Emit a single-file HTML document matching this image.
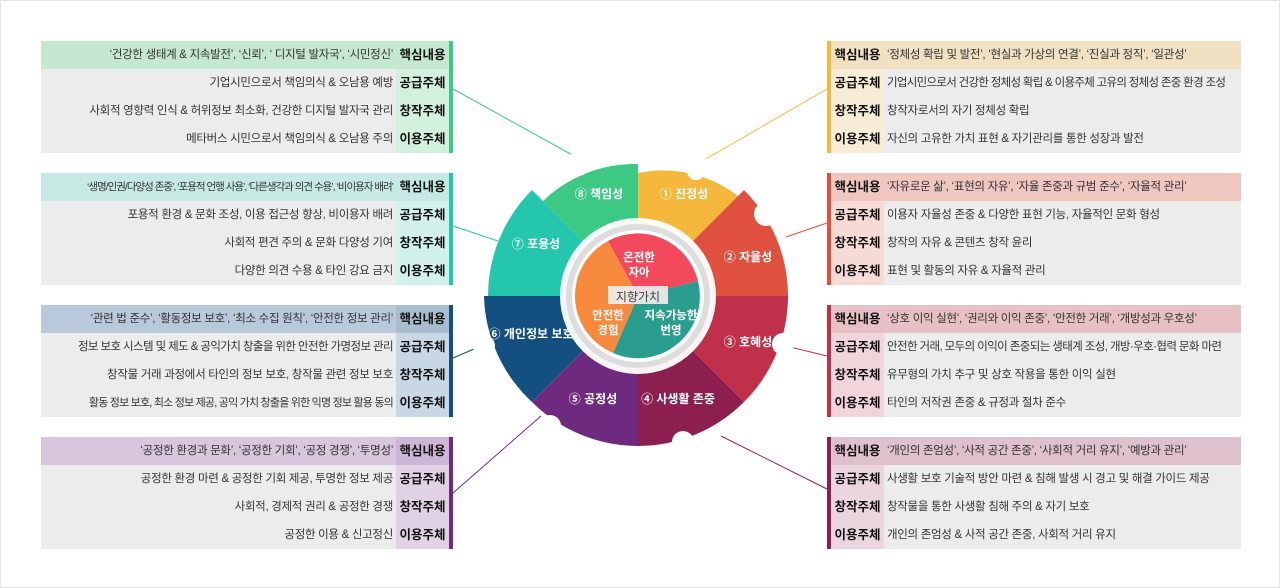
<!DOCTYPE html>
<html><head><meta charset="utf-8"><style>
body{margin:0;background:#fff;}
#c{position:relative;width:1280px;height:588px;overflow:hidden;font-family:"Liberation Sans","Noto Sans CJK KR",sans-serif;border:1px solid #e4e4e4;box-sizing:border-box;}
.p{position:absolute;width:412px;height:112px;}
.r{position:absolute;height:28px;width:100%;font-size:11.5px;color:#333;line-height:28px;white-space:nowrap;letter-spacing:-0.3px;}
.L .r .t{position:absolute;right:60px;top:0;}
.L .r .k{position:absolute;right:4px;width:53px;top:0;text-align:center;font-weight:bold;font-size:12.5px;color:#111;height:28px;letter-spacing:0;}
.R .r .t{position:absolute;left:60px;top:0;}
.R .r .k{position:absolute;left:4px;width:53px;top:0;text-align:center;font-weight:bold;font-size:12.5px;color:#111;height:28px;letter-spacing:0;}
.bar{position:absolute;top:0;width:4px;height:112px;}
.L .bar{right:0}.R .bar{left:0}
svg{position:absolute;left:0;top:0;}
</style></head><body><div id="c">
<svg width="1280" height="588">
<g stroke-width="1">
<line x1="452" y1="88" x2="575" y2="156" stroke="#3cc983"/>
<line x1="452" y1="225" x2="497" y2="240" stroke="#24c7ae"/>
<line x1="452" y1="357" x2="487" y2="342" stroke="#134f7f"/>
<line x1="452" y1="492" x2="540" y2="415" stroke="#6e2a7e"/>
<line x1="826" y1="88" x2="705" y2="158" stroke="#f5b83d"/>
<line x1="826" y1="222" x2="785" y2="236" stroke="#e0503e"/>
<line x1="826" y1="355" x2="785" y2="345" stroke="#c0304a"/>
<line x1="826" y1="488" x2="720" y2="435" stroke="#8d1f50"/>
</g>
<g transform="translate(637,295)">
<path d="M0,0 L0,-123 A123,123 0 0 1 100,-100 Z" fill="#f5b83d"/>
<path d="M0,0 L106,-106 A150,150 0 0 1 150,0 Z" fill="#e0503e"/>
<path d="M0,0 L150,0 A150,150 0 0 1 106,106 Z" fill="#c0304a"/>
<path d="M0,0 L106,106 A150,150 0 0 1 0,150 Z" fill="#8d1f50"/>
<path d="M0,0 L0,150 A150,150 0 0 1 -106,106 Z" fill="#6e2a7e"/>
<path d="M0,0 L-106,106 A150,150 0 0 1 -154,0 Z" fill="#134f7f"/>
<path d="M0,0 L-150,0 A150,150 0 0 1 -106,-106 Z" fill="#24c7ae"/>
<path d="M0,0 L-95,-95 A132,132 0 0 1 0,-132 Z" fill="#3cc983"/>
<g fill="#fff">
<circle cx="128" cy="-82" r="12"/><circle cx="145" cy="48" r="11"/><circle cx="45" cy="146" r="11"/><circle cx="-88" cy="130" r="11"/><circle cx="-154" cy="50" r="11"/><circle cx="-146" cy="-70" r="12"/><circle cx="-60" cy="-132" r="12"/><circle cx="58" cy="-125" r="9"/>
</g>
<circle r="78" fill="#fff" opacity="0.95"/>
<circle r="72" fill="#ddd"/>
<circle r="66" fill="#fff"/>
<path d="M0,0 L-30,-55 A62,62 0 0 1 60,-15 Z" fill="#f24a5c"/>
<path d="M0,0 L60,-15 A62,62 0 0 1 -25,57 Z" fill="#2a9d8f"/>
<path d="M0,0 L-25,57 A62,62 0 0 1 -30,-55 Z" fill="#f88a3e"/>
<rect x="-30" y="-10" width="60" height="18" fill="#eee" opacity="0.9"/>
</g>
<g font-family="Liberation Sans,Noto Sans CJK KR,sans-serif" fill="#fff" font-size="12" font-weight="bold" text-anchor="middle">
<text x="598" y="197">⑧ 책임성</text><text x="683" y="197">① 진정성</text>
<text x="535" y="247">⑦ 포용성</text><text x="747" y="260">② 자율성</text>
<text x="530" y="337">⑥ 개인정보 보호</text><text x="747" y="345">③ 호혜성</text>
<text x="592" y="402">⑤ 공정성</text><text x="677" y="402">④ 사생활 존중</text>
<g font-size="11.5"><text x="638" y="260">온전한</text><text x="638" y="275">자아</text>
<text x="607" y="318">안전한</text><text x="607" y="333">경험</text>
<text x="670" y="318">지속가능한</text><text x="670" y="333">번영</text></g>
<text x="637" y="300" fill="#444" font-weight="normal" font-size="12">지향가치</text>
</g>
</svg>

<div class="p L" style="left:40px;top:40px"><div class="r" style="top:0;background:#c6e8d3"><span class="t">‘건강한 생태계 &amp; 지속발전’, ‘신뢰’, ‘ 디지털 발자국’, ‘시민정신’</span><span class="k">핵심내용</span></div>
<div class="r" style="top:28px;background:#ececec"><span class="t">기업시민으로서 책임의식 &amp; 오남용 예방</span><span class="k" style="background:#d3f0de">공급주체</span></div>
<div class="r" style="top:56px;background:#ececec"><span class="t">사회적 영향력 인식 &amp; 허위정보 최소화, 건강한 디지털 발자국 관리</span><span class="k" style="background:#d3f0de">창작주체</span></div>
<div class="r" style="top:84px;background:#ececec"><span class="t">메타버스 시민으로서 책임의식 &amp; 오남용 주의</span><span class="k" style="background:#d3f0de">이용주체</span></div><div class="bar" style="background:#3cc983"></div></div>

<div class="p L" style="left:40px;top:172px"><div class="r" style="top:0;background:#c6eae3"><span class="t" style="letter-spacing:-1px;font-size:10.5px">‘생명/인권/다양성 존중’, ‘포용적 언행 사용’, ‘다른생각과 의견 수용’, ‘비이용자 배려’</span><span class="k">핵심내용</span></div>
<div class="r" style="top:28px;background:#ececec"><span class="t">포용적 환경 &amp; 문화  조성, 이용 접근성 향상, 비이용자 배려</span><span class="k" style="background:#d2f1eb">공급주체</span></div>
<div class="r" style="top:56px;background:#ececec"><span class="t">사회적 편견 주의 &amp; 문화 다양성 기여</span><span class="k" style="background:#d2f1eb">창작주체</span></div>
<div class="r" style="top:84px;background:#ececec"><span class="t">다양한 의견 수용 &amp; 타인 강요 금지</span><span class="k" style="background:#d2f1eb">이용주체</span></div><div class="bar" style="background:#24c7ae"></div></div>

<div class="p L" style="left:40px;top:304px"><div class="r" style="top:0;background:#b9c9d9"><span class="t">‘관련 법 준수’, ‘활동정보 보호’, ‘최소 수집 원칙’, ‘안전한 정보 관리’</span><span class="k" style="background:#a9bcd0">핵심내용</span></div>
<div class="r" style="top:28px;background:#ececec"><span class="t" style="letter-spacing:-0.6px">정보 보호 시스템 및 제도 &amp; 공익가치 창출을 위한 안전한 가명정보 관리</span><span class="k" style="background:#c9d6e3">공급주체</span></div>
<div class="r" style="top:56px;background:#ececec"><span class="t">창작물 거래 과정에서 타인의 정보 보호, 창작물 관련 정보 보호</span><span class="k" style="background:#c9d6e3">창작주체</span></div>
<div class="r" style="top:84px;background:#ececec"><span class="t" style="letter-spacing:-0.8px;font-size:11px">활동 정보 보호, 최소 정보 제공, 공익 가치 창출을 위한 익명 정보 활용 동의</span><span class="k" style="background:#c9d6e3">이용주체</span></div><div class="bar" style="background:#134f7f"></div></div>

<div class="p L" style="left:40px;top:436px"><div class="r" style="top:0;background:#d8c6dd"><span class="t">‘공정한 환경과 문화’, ‘공정한 기회’, ‘공정 경쟁’, ‘투명성’</span><span class="k" style="background:#cdb6d5">핵심내용</span></div>
<div class="r" style="top:28px;background:#ececec"><span class="t">공정한 환경 마련 &amp; 공정한 기회 제공, 투명한 정보 제공</span><span class="k" style="background:#e0d1e5">공급주체</span></div>
<div class="r" style="top:56px;background:#ececec"><span class="t">사회적, 경제적 권리 &amp; 공정한 경쟁</span><span class="k" style="background:#e0d1e5">창작주체</span></div>
<div class="r" style="top:84px;background:#ececec"><span class="t">공정한 이용 &amp; 신고정신</span><span class="k" style="background:#e0d1e5">이용주체</span></div><div class="bar" style="background:#6e2a7e"></div></div>

<div class="p R" style="left:826px;top:40px;width:414px"><div class="r" style="top:0;background:#f0e1c3"><span class="k">핵심내용</span><span class="t">‘정체성 확립 및 발전’, ‘현실과 가상의 연결’, ‘진실과 정직’, ‘일관성’</span></div>
<div class="r" style="top:28px;background:#ececec"><span class="k" style="background:#f7ecd6">공급주체</span><span class="t" style="letter-spacing:-0.7px">기업시민으로서 건강한 정체성 확립 &amp; 이용주체 고유의 정체성 존중 환경 조성</span></div>
<div class="r" style="top:56px;background:#ececec"><span class="k" style="background:#f7ecd6">창작주체</span><span class="t">창작자로서의 자기 정체성 확립</span></div>
<div class="r" style="top:84px;background:#ececec"><span class="k" style="background:#f7ecd6">이용주체</span><span class="t">자신의 고유한 가치 표현 &amp; 자기관리를 통한 성장과 발전</span></div><div class="bar" style="background:#f5b83d"></div></div>

<div class="p R" style="left:826px;top:172px;width:414px"><div class="r" style="top:0;background:#efc6c0"><span class="k">핵심내용</span><span class="t">‘자유로운 삶’, ‘표현의 자유’, ‘자율 존중과 규범 준수’, ‘자율적 관리’</span></div>
<div class="r" style="top:28px;background:#ececec"><span class="k" style="background:#f5dad6">공급주체</span><span class="t">이용자 자율성 존중 &amp; 다양한 표현 기능, 자율적인 문화 형성</span></div>
<div class="r" style="top:56px;background:#ececec"><span class="k" style="background:#f5dad6">창작주체</span><span class="t">창작의 자유 &amp; 콘텐츠 창작 윤리</span></div>
<div class="r" style="top:84px;background:#ececec"><span class="k" style="background:#f5dad6">이용주체</span><span class="t">표현 및 활동의 자유 &amp; 자율적 관리</span></div><div class="bar" style="background:#e0503e"></div></div>

<div class="p R" style="left:826px;top:304px;width:414px"><div class="r" style="top:0;background:#e7c0c7"><span class="k">핵심내용</span><span class="t">‘상호 이익 실현’, ‘권리와 이익 존중’, ‘안전한 거래’, ‘개방성과 우호성’</span></div>
<div class="r" style="top:28px;background:#ececec"><span class="k" style="background:#f0d6db">공급주체</span><span class="t" style="letter-spacing:-0.6px">안전한 거래,  모두의 이익이 존중되는 생태계 조성, 개방·우호·협력 문화 마련</span></div>
<div class="r" style="top:56px;background:#ececec"><span class="k" style="background:#f0d6db">창작주체</span><span class="t">유무형의 가치 추구 및 상호 작용을 통한 이익 실현</span></div>
<div class="r" style="top:84px;background:#ececec"><span class="k" style="background:#f0d6db">이용주체</span><span class="t">타인의 저작권 존중 &amp; 규정과 절차 준수</span></div><div class="bar" style="background:#c0304a"></div></div>

<div class="p R" style="left:826px;top:436px;width:414px"><div class="r" style="top:0;background:#dfc0cd"><span class="k">핵심내용</span><span class="t">‘개인의 존엄성’, ‘사적 공간 존중’, ‘사회적 거리 유지’, ‘예방과 관리’</span></div>
<div class="r" style="top:28px;background:#ececec"><span class="k" style="background:#ebd6df">공급주체</span><span class="t">사생활 보호 기술적 방안 마련 &amp; 침해 발생 시 경고 및 해결 가이드 제공</span></div>
<div class="r" style="top:56px;background:#ececec"><span class="k" style="background:#ebd6df">창작주체</span><span class="t">창작물을 통한 사생활 침해 주의 &amp; 자기 보호</span></div>
<div class="r" style="top:84px;background:#ececec"><span class="k" style="background:#ebd6df">이용주체</span><span class="t">개인의 존엄성 &amp; 사적 공간 존중, 사회적 거리 유지</span></div><div class="bar" style="background:#8d1f50"></div></div>
</div></body></html>
